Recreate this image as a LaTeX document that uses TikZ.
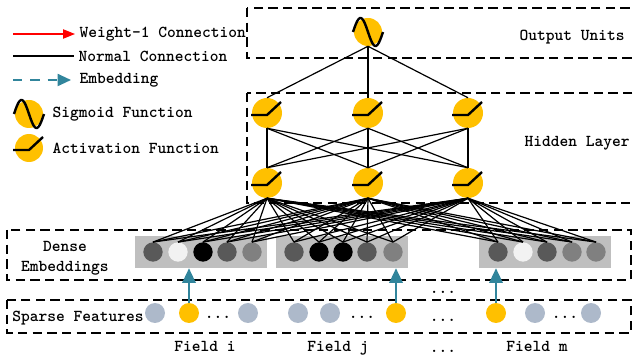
\documentclass[tikz,border=0pt]{standalone}
\usepackage{fontspec}
\usetikzlibrary{arrows.meta}
\definecolor{gold}{HTML}{FFC000}
\definecolor{embteal}{HTML}{31859C}
\definecolor{paleblue}{HTML}{ADB9CA}
\definecolor{darkgr}{HTML}{595959}
\definecolor{midgr}{HTML}{808080}
\definecolor{lightgr}{HTML}{F2F2F2}
\definecolor{boxgr}{HTML}{BFBFBF}
\tikzset{
  unit/.style={circle,fill=gold,inner sep=0pt,minimum size=22.5pt},
  emb/.style={circle,inner sep=0pt,minimum size=14.5pt},
  sparse/.style={circle,inner sep=0pt,minimum size=15pt,fill=paleblue},
  layerbox/.style={line width=1.1pt,dash pattern=on 7pt off 4pt},
  conn/.style={line width=0.9pt},
  icon/.style={line width=1.8pt},
  embarrow/.style={embteal,line width=1.6pt,-{Triangle[length=11pt,width=10pt]}},
}
\newcommand{\sigwave}[1]{\draw[icon,shift={(#1.center)}] plot[domain=0:1,samples=40,smooth] ({-15+30*\x},{-14*sin(360*\x)});}
\newcommand{\acticon}[1]{\draw[icon,shift={(#1.center)}] (-16,2) -- (0,2) -- (14,-11);}
\begin{document}
\begin{tikzpicture}[x=0.75pt,y=-0.75pt,font=\ttfamily\bfseries\fontsize{12.5}{15}\selectfont]
  \useasboundingbox (0,0) rectangle (633,356);
  % layer boxes
  \draw[layerbox] (247,8) rectangle (645,58);
  \draw[layerbox] (247,93) rectangle (645,203);
  \draw[layerbox] (7,230) rectangle (631,280);
  \draw[layerbox] (7,300) rectangle (631,333);
  \node (out) at (572,37) {Output Units};
  \node (hid) at (577,143) {Hidden Layer};
  \node[align=center] (den) at (65,258) {Dense\\Embeddings};
  \node (spa) at (78,318) {Sparse Features};

  % legend
  \coordinate (l1) at (13,34);
  \coordinate (l2) at (13,56);
  \coordinate (l3) at (13,80);
  \node[anchor=west] (t1) at (75,34) {Weight-1 Connection};
  \node[anchor=west] (t2) at (74,56) {Normal Connection};
  \node[anchor=west] (t3) at (75,80) {Embedding};
  \draw[conn,red,-{Triangle[length=9pt,width=7pt]}] (l1) -- (t1.west);
  \draw[conn] (l2) -- (t2.west);
  \draw[embteal,line width=1.4pt,dash pattern=on 7pt off 6pt,shorten >=3pt,-{Triangle[length=10pt,width=9pt]}] (l3) -- (t3.west);
  \node[unit,minimum size=21pt] (ls) at (29,114) {};
  \sigwave{ls}
  \node[anchor=west] (t4) at (48,114) {Sigmoid Function};
  \node[unit,minimum size=21pt] (la) at (29,148) {};
  \acticon{la}
  \node[anchor=west] (t5) at (48,148) {Activation Function};

  % units
  \node[unit,minimum size=21pt] (o) at (368,32) {};
  \foreach \x [count=\i] in {267,368,468} {
    \node[unit] (h\i) at (\x,113) {};
    \node[unit] (g\i) at (\x,183) {};
  }

  % embeddings
  \node[fill=boxgr,inner sep=0pt,minimum width=99pt,minimum height=24pt] (r1) at (201,252) {};
  \node[fill=boxgr,inner sep=0pt,minimum width=99pt,minimum height=24pt] (r2) at (342,252) {};
  \node[fill=boxgr,inner sep=0pt,minimum width=99pt,minimum height=24pt] (r3) at (545,252) {};
  \foreach \x/\c [count=\i] in {153/darkgr,178/lightgr,203/black,227/darkgr,252/midgr,
      294/darkgr,319/black,343/black,367/darkgr,393/midgr,
      498/darkgr,523/lightgr,547/darkgr,572/midgr,596/midgr}
    \node[emb,fill=\c] (e\i) at (\x,252) {};

  % connections
  \foreach \i in {1,...,15}
    \foreach \j in {1,2,3}
      \draw[conn] (e\i.north) -- (g\j.south);
  \foreach \i in {1,2,3} {
    \foreach \j in {1,2,3}
      \draw[conn] (h\i.south) -- (g\j.north);
    \draw[conn] (o.south) -- (h\i.north);
  }
  \sigwave{o}
  \foreach \i in {1,2,3} {
    \acticon{h\i}
    \acticon{g\i}
  }

  % sparse features
  \node[sparse] (a1) at (155,313) {};
  \node[sparse,fill=gold] (s1) at (189,313) {};
  \node (d1) at (218,317) {...};
  \node[sparse] (a2) at (248,313) {};
  \node[sparse] (b1) at (298,313) {};
  \node[sparse] (b2) at (330,313) {};
  \node (d2) at (362,317) {...};
  \node[sparse,fill=gold] (s2) at (396,313) {};
  \node[sparse,fill=gold] (s3) at (496,313) {};
  \node[sparse] (c1) at (535,313) {};
  \node (d3) at (565,317) {...};
  \node[sparse] (c2) at (591,313) {};
  \node (d4) at (443,292) {...};
  \node (d5) at (443,320) {...};
  \draw[embarrow] (s1.north) -- (s1.north |- r1.south);
  \draw[embarrow] (s2.north) -- (s2.north |- r2.south);
  \draw[embarrow] (s3.north) -- (s3.north |- r3.south);

  % fields
  \node[anchor=base] (f1) at (205,352) {Field i};
  \node[anchor=base] (f2) at (338,352) {Field j};
  \node (d6) at (443,351) {...};
  \node[anchor=base] (f3) at (537,352) {Field m};
\end{tikzpicture}
\end{document}
